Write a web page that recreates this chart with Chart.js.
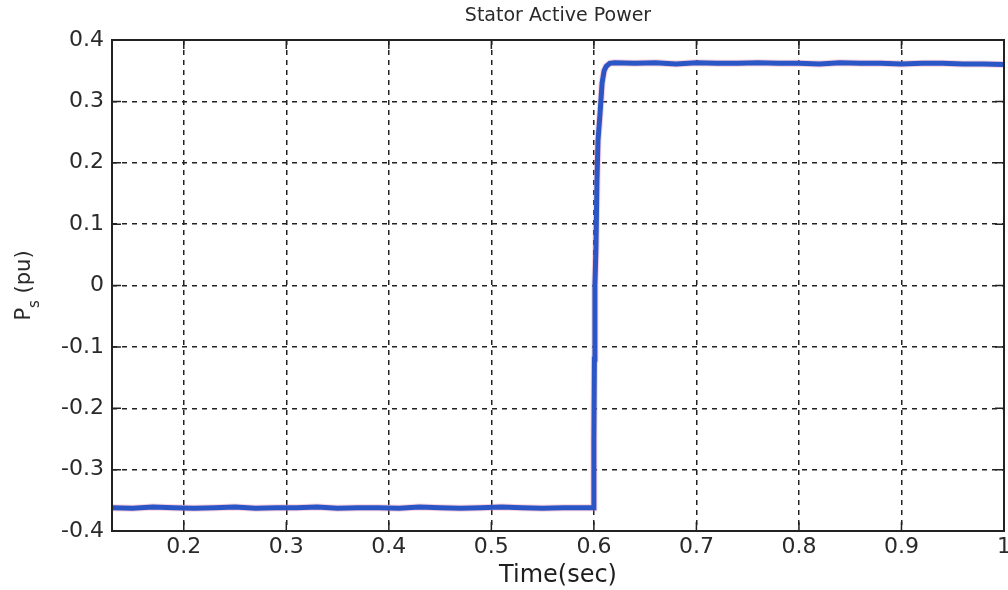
<!DOCTYPE html>
<html lang="en">
<head>
    <meta charset="UTF-8">
    <title>Stator Active Power</title>
    <script src="https://cdn.jsdelivr.net/npm/chart.js"></script>
    <style>
        body {
            margin: 0;
            background: #ffffff;
        }
        .chart-box {
            width: 1008px;
            height: 590px;
        }
    </style>
</head>
<body>
    <div class="chart-box">
        <canvas id="powerChart"></canvas>
    </div>

    <script>
        // data
        const timeSec = [
            0.13, 0.15, 0.17, 0.19, 0.21, 0.23, 0.25, 0.27, 0.29, 0.31, 0.33, 0.35,
            0.37, 0.39, 0.41, 0.43, 0.45, 0.47, 0.49, 0.51, 0.53, 0.55, 0.57, 0.59,
            0.5995, 0.6, 0.6005, 0.601, 0.602, 0.603, 0.604, 0.606, 0.608, 0.610,
            0.612, 0.6155, 0.62, 0.64, 0.66, 0.68, 0.70, 0.72, 0.74, 0.76, 0.78,
            0.80, 0.82, 0.84, 0.86, 0.88, 0.90, 0.92, 0.94, 0.96, 0.98, 1.0
        ];
        const statorPower = [
            -0.362, -0.363, -0.361, -0.362, -0.363, -0.362, -0.361, -0.363, -0.362, -0.362, -0.361, -0.363,
            -0.362, -0.362, -0.363, -0.361, -0.362, -0.363, -0.362, -0.361, -0.362, -0.363, -0.362, -0.362,
            -0.362, -0.25, -0.12, 0.0, 0.06, 0.17, 0.236, 0.28, 0.33, 0.35,
            0.357, 0.362, 0.363, 0.362, 0.363, 0.361, 0.363, 0.362, 0.362, 0.363, 0.362,
            0.362, 0.361, 0.363, 0.362, 0.362, 0.361, 0.362, 0.362, 0.361, 0.361, 0.360
        ];
        const xTicks = [0.2, 0.3, 0.4, 0.5, 0.6, 0.7, 0.8, 0.9, 1.0];
        const yTicks = [-0.4, -0.3, -0.2, -0.1, 0, 0.1, 0.2, 0.3, 0.4];

        const points = timeSec.map((t, i) => ({ x: t, y: statorPower[i] }));
        const FONT = '"DejaVu Sans", Arial, sans-serif';

        function fmt(v) {
            if (Math.abs(v) < 1e-9) return '0';
            if (Math.abs(v - 1) < 1e-9) return '1';
            return v.toFixed(1);
        }

        // title, y label with subscript and the frame
        const extras = {
            id: 'extras',
            afterDraw(chart) {
                const ctx = chart.ctx;
                const a = chart.chartArea;
                ctx.save();
                ctx.fillStyle = '#2a2a2a';
                ctx.textAlign = 'center';
                ctx.textBaseline = 'middle';
                ctx.font = '19px ' + FONT;
                ctx.fillText('Stator Active Power', (a.left + a.right) / 2, 16);

                // y label: P_s (pu)
                ctx.translate(25, (a.top + a.bottom) / 2);
                ctx.rotate(-Math.PI / 2);
                ctx.textAlign = 'left';
                ctx.font = '21px ' + FONT;
                const wP = ctx.measureText('P').width;
                ctx.font = '15px ' + FONT;
                const wS = ctx.measureText('s').width;
                ctx.font = '21px ' + FONT;
                const wR = ctx.measureText(' (pu)').width;
                let x0 = -(wP + wS + wR) / 2;
                ctx.fillText('P', x0, 0);
                ctx.font = '15px ' + FONT;
                ctx.fillText('s', x0 + wP, 10);
                ctx.font = '21px ' + FONT;
                ctx.fillText(' (pu)', x0 + wP + wS, 0);
                ctx.restore();

                // frame and inward ticks
                ctx.save();
                ctx.strokeStyle = '#222';
                ctx.lineWidth = 2;
                ctx.strokeRect(a.left, a.top, a.right - a.left, a.bottom - a.top);
                ctx.lineWidth = 1.5;
                const xs = chart.scales.x, ys = chart.scales.y;
                ctx.beginPath();
                xTicks.forEach(v => {
                    const px = xs.getPixelForValue(v);
                    ctx.moveTo(px, a.bottom); ctx.lineTo(px, a.bottom - 9);
                    ctx.moveTo(px, a.top); ctx.lineTo(px, a.top + 9);
                });
                yTicks.forEach(v => {
                    const py = ys.getPixelForValue(v);
                    ctx.moveTo(a.left, py); ctx.lineTo(a.left + 9, py);
                    ctx.moveTo(a.right, py); ctx.lineTo(a.right - 9, py);
                });
                ctx.stroke();
                ctx.restore();
            }
        };

        const ctx = document.getElementById('powerChart').getContext('2d');
        new Chart(ctx, {
            type: 'line',
            data: {
                datasets: [
                    {
                        label: 'Ps',
                        data: points,
                        borderColor: '#2a56c6',
                        borderWidth: 5,
                        pointRadius: 0,
                        tension: 0,
                        fill: false
                    },
                    {
                        label: 'Ps ref',
                        data: points,
                        borderColor: 'rgba(235, 120, 160, 0.35)',
                        borderWidth: 7,
                        pointRadius: 0,
                        tension: 0,
                        fill: false
                    }
                ]
            },
            options: {
                responsive: true,
                maintainAspectRatio: false,
                animation: false,
                layout: { padding: { top: 40, right: 4, left: 0, bottom: 0 } },
                scales: {
                    x: {
                        type: 'linear',
                        min: 0.13,
                        max: 1.0,
                        afterBuildTicks: s => { s.ticks = xTicks.map(v => ({ value: v })); },
                        afterFit: s => { s.height = 59; s.paddingLeft = 0; s.paddingRight = 0; },
                        ticks: {
                            color: '#2a2a2a',
                            padding: 3,
                            font: { family: FONT, size: 22 },
                            callback: v => fmt(v),
                            maxRotation: 0,
                            autoSkip: false
                        },
                        grid: {
                            color: '#222',
                            lineWidth: 1.5,
                            drawTicks: false,
                            drawOnChartArea: true
                        },
                        border: { display: false, dash: [5, 5] },
                        title: {
                            display: true,
                            text: 'Time(sec)',
                            color: '#1e1e1e',
                            font: { family: FONT, size: 24 },
                            padding: { top: -8, bottom: 0 }
                        }
                    },
                    y: {
                        min: -0.4,
                        max: 0.4,
                        afterBuildTicks: s => { s.ticks = yTicks.map(v => ({ value: v })); },
                        afterFit: s => { s.width = 112; s.paddingTop = 0; s.paddingBottom = 0; },
                        ticks: {
                            color: '#2a2a2a',
                            padding: 8,
                            font: { family: FONT, size: 22 },
                            callback: v => fmt(v)
                        },
                        grid: {
                            color: '#222',
                            lineWidth: 1.5,
                            drawTicks: false
                        },
                        border: { display: false, dash: [5, 5] }
                    }
                },
                plugins: {
                    legend: { display: false },
                    title: { display: false },
                    tooltip: { enabled: false }
                }
            },
            plugins: [extras]
        });
    </script>
</body>
</html>
